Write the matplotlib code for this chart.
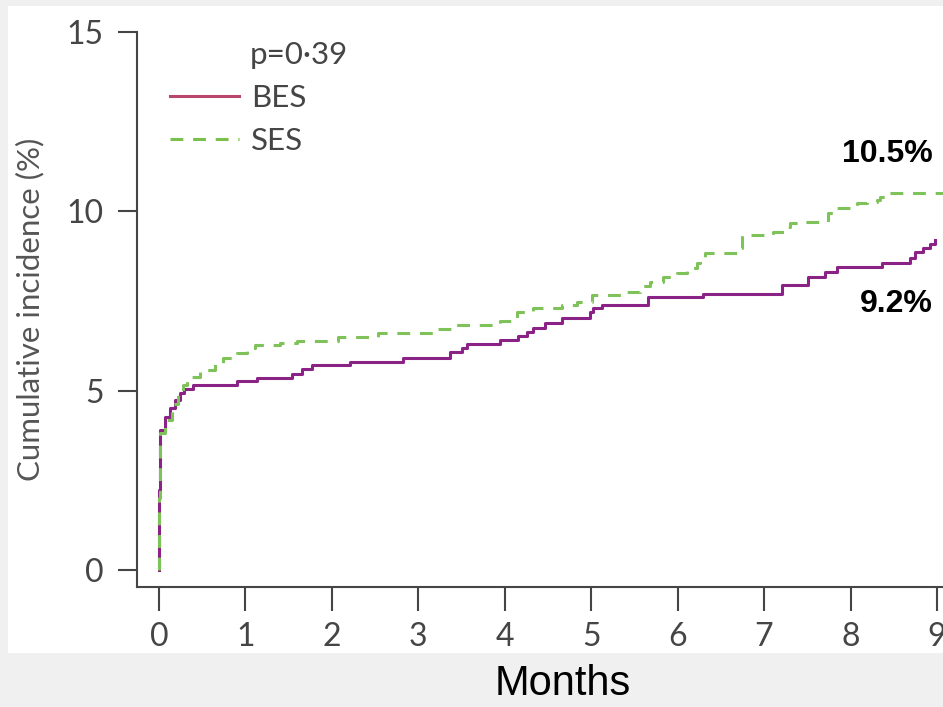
import matplotlib.pyplot as plt
from matplotlib.lines import Line2D
from matplotlib.patches import Rectangle

# cumulative incidence (%), step curves
bes_t = [0, 0.0, 0.01, 0.07, 0.13, 0.185, 0.24, 0.29, 0.39, 0.90, 1.13, 1.54, 1.65,
         1.77, 2.21, 2.82, 3.37, 3.51, 3.56, 3.94, 4.15, 4.26, 4.33, 4.47, 4.66,
         4.99, 5.02, 5.12, 5.66, 6.29, 7.21, 7.51, 7.70, 7.84, 8.36, 8.69, 8.75,
         8.84, 8.92, 8.98]
bes_y = [0, 2.23, 3.90, 4.27, 4.52, 4.74, 4.93, 5.05, 5.16, 5.27, 5.35, 5.46, 5.60,
         5.72, 5.80, 5.91, 6.08, 6.19, 6.30, 6.41, 6.52, 6.64, 6.75, 6.89, 7.03,
         7.19, 7.30, 7.39, 7.61, 7.69, 7.95, 8.17, 8.31, 8.45, 8.56, 8.70, 8.87,
         8.98, 9.10, 9.20]

ses_t = [0, 0.0, 0.01, 0.07, 0.15, 0.22, 0.28, 0.32, 0.47, 0.65, 0.74, 0.90, 1.02,
         1.11, 1.40, 1.60, 2.07, 2.53, 3.19, 3.39, 3.94, 4.14, 4.33, 4.66, 4.84,
         5.01, 5.36, 5.56, 5.68, 5.83, 5.99, 6.11, 6.22, 6.26, 6.32, 6.70, 6.74,
         7.10, 7.24, 7.30, 7.42, 7.74, 7.82, 8.08, 8.19, 8.31, 8.34, 8.42, 9.07]
ses_y = [0, 2.0, 3.82, 4.18, 4.63, 4.88, 5.16, 5.38, 5.58, 5.74, 5.91, 6.05, 6.19,
         6.27, 6.33, 6.38, 6.50, 6.61, 6.72, 6.83, 6.94, 7.19, 7.30, 7.39, 7.47,
         7.67, 7.75, 7.92, 8.03, 8.17, 8.28, 8.42, 8.56, 8.64, 8.84, 8.98, 9.34,
         9.42, 9.56, 9.67, 9.70, 9.95, 10.09, 10.23, 10.26, 10.31, 10.40, 10.51, 10.51]

x_ticks = list(range(10))
y_ticks = [0, 5, 10, 15]

purple = '#8b2286'
green = '#80c25a'
grey = '#454545'

plt.rcParams['font.family'] = ['Lato', 'DejaVu Sans']

W, H = 943, 707
fig = plt.figure(figsize=(W / 100, H / 100), dpi=100, facecolor='#f0f0f0')
fig.patches.append(Rectangle((8 / W, 1 - 653 / H), 1, (653 - 6) / H,
                             transform=fig.transFigure, facecolor='white',
                             edgecolor='none', zorder=-10))

ax = fig.add_axes([137 / W, 1 - 587 / H, (943 - 137) / W, (587 - 32) / H])
ax.set_facecolor('none')

ax.step(bes_t, bes_y, where='post', color=purple, lw=2.2, zorder=3)
ax.step(ses_t, ses_y, where='post', color=green, lw=2.2,
        linestyle=(0, (4.2, 3.2)), zorder=4)

ax.set_xlim(-0.254, 9.07)
ax.set_ylim(-0.474, 15)
ax.set_xticks(x_ticks)
ax.set_yticks(y_ticks)

for s in ['top', 'right']:
    ax.spines[s].set_visible(False)
for s in ['left', 'bottom']:
    ax.spines[s].set_color(grey)
    ax.spines[s].set_linewidth(1.5)
ax.tick_params(axis='y', length=14, width=1.5, color=grey, labelcolor=grey,
               labelsize=23, pad=10)
ax.tick_params(axis='x', length=17, width=1.5, color=grey, labelcolor=grey,
               labelsize=23, pad=8)

ax.set_ylabel('Cumulative incidence (%)', fontsize=22.5, color='#555555', labelpad=16)

# legend
handles = [Line2D([], [], color='#b8476e', lw=2.2),
           Line2D([], [], color='#7cc04c', lw=2.2, linestyle=(0, (4.2, 3.2)))]
ax.legend(handles, ['BES', 'SES'], loc='upper left', bbox_to_anchor=(0.041, 0.906),
          frameon=False, fontsize=22.5, handlelength=2.2, handletextpad=0.4,
          labelspacing=0.47, borderpad=0, borderaxespad=0, labelcolor=grey)
ax.text(0.140, 0.958, 'p=0·39', transform=ax.transAxes, fontsize=22.5, color=grey,
        va='center', ha='left')

ax.text(8.95, 11.61, '10.5%', ha='right', va='center', fontsize=23,
        fontweight='bold', family='Liberation Sans')
ax.text(8.95, 7.43, '9.2%', ha='right', va='center', fontsize=23,
        fontweight='bold', family='Liberation Sans')

fig.text(563 / W, 1 - 684 / H, 'Months', ha='center', va='center', fontsize=30,
         family='Liberation Sans')

fig.savefig('out.png', dpi=100, facecolor=fig.get_facecolor())
